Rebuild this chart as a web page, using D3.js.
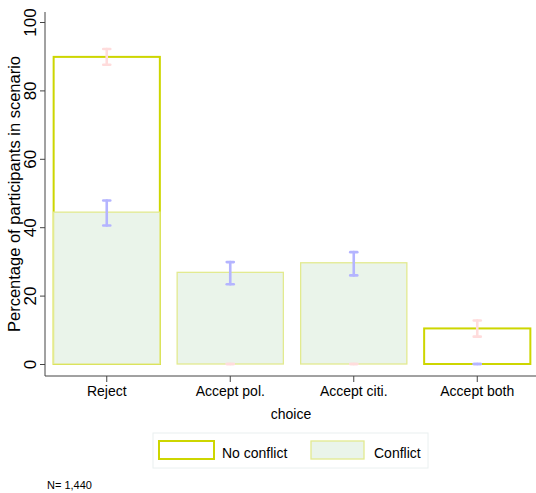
<!DOCTYPE html>
<html>
<head>
<meta charset="utf-8">
<script src="https://cdn.jsdelivr.net/npm/d3@7"></script>
<style>
  body { margin: 0; background: #fff; }
  svg { display: block; font-family: "Liberation Sans", Arial, sans-serif; }
</style>
</head>
<body>
<svg id="chart"></svg>
<script>
const choices = ["Reject", "Accept pol.", "Accept citi.", "Accept both"];
const noConflict = [89.8, 0, 0, 10.4];
const noConflictLo = [87.5, 0, 0, 8.0];
const noConflictHi = [92.1, 0, 0, 12.7];
const conflict = [44.4, 26.8, 29.6, 0];
const conflictLo = [40.5, 23.3, 25.9, 0];
const conflictHi = [47.8, 29.8, 32.7, 0];
const yTicks = [0, 20, 40, 60, 80, 100];

const width = 536, height = 493;
const marginLeft = 45, marginTop = 22, plotBottom = 364;

const svg = d3.select("#chart").attr("width", width).attr("height", height);

const x = d3.scaleBand()
    .domain(choices)
    .range([marginLeft, 539])
    .paddingInner(0.14)
    .paddingOuter(0.07);

const y = d3.scaleLinear()
    .domain([0, 100])
    .range([plotBottom, marginTop]);

// axes
const yAxis = svg.append("g")
    .attr("transform", `translate(${marginLeft},0)`)
    .call(d3.axisLeft(y).tickValues(yTicks).tickSize(5).tickSizeOuter(0));
yAxis.select(".domain").attr("stroke", "#444").attr("d", `M0,12V376`);
yAxis.selectAll(".tick line").attr("stroke", "#444");
yAxis.selectAll(".tick text")
    .attr("font-size", 17)
    .attr("fill", "#000")
    .attr("transform", "rotate(-90)")
    .attr("x", 0)
    .attr("y", -9)
    .attr("dy", 0)
    .attr("text-anchor", "middle");

const xAxis = svg.append("g")
    .attr("transform", `translate(0,376)`)
    .call(d3.axisBottom(x).tickSize(6).tickSizeOuter(0));
xAxis.select(".domain").attr("stroke", "#444").attr("d", `M${marginLeft},0H${width}`);
xAxis.selectAll(".tick line").attr("stroke", "#444");
xAxis.selectAll(".tick text")
    .attr("font-size", 14)
    .attr("fill", "#000")
    .attr("y", 10)
    .attr("dy", "0.71em");

// bars: no conflict first, conflict on top
svg.append("g").selectAll("rect")
    .data(choices)
    .join("rect")
    .attr("x", d => x(d))
    .attr("width", x.bandwidth())
    .attr("y", (d, i) => y(noConflict[i]))
    .attr("height", (d, i) => y(0) - y(noConflict[i]))
    .attr("fill", "#fff")
    .attr("stroke", "#cdd600")
    .attr("stroke-width", 2);

svg.append("g").selectAll("rect")
    .data(choices)
    .join("rect")
    .filter((d, i) => conflict[i] > 0)
    .attr("x", d => x(d))
    .attr("width", x.bandwidth())
    .attr("y", (d, i) => y(conflict[i]))
    .attr("height", (d, i) => y(0) - y(conflict[i]))
    .attr("fill", "#eaf4ea")
    .attr("stroke", "#e2ea90")
    .attr("stroke-width", 1.3);

// error bars
function errorBars(lo, hi, color) {
    const g = svg.append("g")
        .attr("stroke", color)
        .attr("stroke-width", 2.6)
        .attr("stroke-linecap", "round");
    choices.forEach((c, i) => {
        const cx = x(c) + x.bandwidth() / 2;
        g.append("line").attr("x1", cx).attr("x2", cx).attr("y1", y(lo[i])).attr("y2", y(hi[i]));
        [lo[i], hi[i]].forEach(v => {
            g.append("line").attr("x1", cx - 3.5).attr("x2", cx + 3.5).attr("y1", y(v)).attr("y2", y(v));
        });
    });
}
errorBars(noConflictLo, noConflictHi, "#ffdcdc");
errorBars(conflictLo, conflictHi, "#b4b4ff");

// axis titles
svg.append("text")
    .attr("transform", `translate(20,194) rotate(-90)`)
    .attr("text-anchor", "middle")
    .attr("font-size", 16.5)
    .text("Percentage of participants in scenario");

svg.append("text")
    .attr("x", 291)
    .attr("y", 419)
    .attr("text-anchor", "middle")
    .attr("font-size", 14)
    .text("choice");

// legend
const legend = svg.append("g");
legend.append("rect")
    .attr("x", 153).attr("y", 433).attr("width", 275).attr("height", 35)
    .attr("fill", "#fff").attr("stroke", "#eaf0f0").attr("stroke-width", 1);
legend.append("rect")
    .attr("x", 159).attr("y", 441).attr("width", 55).attr("height", 18)
    .attr("fill", "#fff").attr("stroke", "#cdd600").attr("stroke-width", 2);
legend.append("text")
    .attr("x", 222).attr("y", 458).attr("font-size", 14).text("No conflict");
legend.append("rect")
    .attr("x", 311).attr("y", 441).attr("width", 53).attr("height", 18)
    .attr("fill", "#eaf4ea").attr("stroke", "#e2ea90").attr("stroke-width", 1.3);
legend.append("text")
    .attr("x", 374).attr("y", 458).attr("font-size", 14).text("Conflict");

svg.append("text")
    .attr("x", 47).attr("y", 489).attr("font-size", 11).text("N= 1,440");
</script>
</body>
</html>
